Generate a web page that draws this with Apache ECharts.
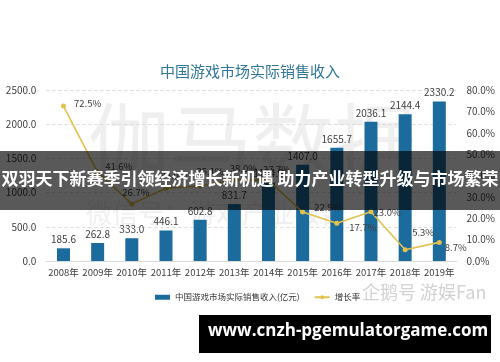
<!DOCTYPE html>
<html>
<head>
<meta charset="utf-8">
<script src="https://cdn.jsdelivr.net/npm/echarts@6/dist/echarts.min.js"></script>
<style>
html,body{margin:0;padding:0;background:#fff;}
#c{width:500px;height:362px;}
</style>
</head>
<body>
<div id="c"></div>
<script>
// ---- data ----
const categories = ['2008年','2009年','2010年','2011年','2012年','2013年','2014年','2015年','2016年','2017年','2018年','2019年'];
const revenue = [185.6, 262.8, 333.0, 446.1, 602.8, 831.7, 1144.8, 1407.0, 1655.7, 2036.1, 2144.4, 2330.2];
const growthRate = [72.5, 41.6, 26.7, 34.0, 35.1, 38.0, 37.7, 22.9, 17.7, 23.0, 5.3, 8.7];
const revenueName = '中国游戏市场实际销售收入(亿元)';
const rateName = '增长率';
const titleText = '中国游戏市场实际销售收入';
const bannerText = '双羽天下新赛季引领经济增长新机遇 助力产业转型升级与市场繁荣';
const footerText = 'www.cnzh-pgemulatorgame.com';
const watermarkBig = '伽马数据';
const watermarkSmall = '微信号：游戏产业报告';
const watermarkBrand = '企鹅号 游娱Fan';

// ---- label placement styles (not data) ----
const rateLabelStyle = [
  {position:'right', distance:8, offset:[0,-3]},
  {position:'right', distance:5, offset:[0,-6]},
  {position:'top', distance:4, offset:[4,0]},
  {position:'top', distance:4, offset:[8,-2]},
  {position:'top', distance:4, offset:[10,-3]},
  {position:'top', distance:4, offset:[9,0]},
  {position:'top', distance:4, offset:[8,0]},
  {position:'right', distance:9, offset:[0,-5]},
  {position:'right', distance:10, offset:[0,4]},
  {position:'right', distance:0, offset:[0,1]},
  {position:'top', distance:4, offset:[18,-6]},
  {position:'right', distance:3, offset:[0,5]}
];

const FONT = '"Noto Sans CJK SC", "Noto Sans", sans-serif';
const BAR = '#1b6c9c';
const LINE = '#e3c14e';

const chart = echarts.init(document.getElementById('c'), null, {renderer:'canvas'});
chart.setOption({
  backgroundColor:'#ffffff',
  animation:false,
  textStyle:{fontFamily:FONT},
  title:{
    text:titleText, left:'center', top:59,
    textStyle:{fontSize:15, fontWeight:'normal', color:'#2f7697', fontFamily:FONT}
  },
  grid:{left:46.4, right:43.6, top:90, bottom:101, containLabel:false},
  legend:{
    left:150, top:288, itemGap:14, itemWidth:15, itemHeight:5,
    textStyle:{fontSize:8.5, color:'#333', fontFamily:FONT},
    data:[{name:revenueName, icon:'rect'}, {name:rateName}]
  },
  xAxis:{
    type:'category', data:categories,
    axisLine:{show:true, lineStyle:{color:'#d9d9d9'}},
    axisTick:{show:false},
    axisLabel:{interval:0, fontSize:9.5, color:'#404040', margin:7, fontFamily:FONT}
  },
  yAxis:[
    {type:'value', min:0, max:2500, interval:500,
     axisLine:{show:false}, axisTick:{show:false},
     axisLabel:{fontSize:10, color:'#404040', margin:10, formatter:v=>v.toFixed(1), fontFamily:FONT},
     splitLine:{show:true, lineStyle:{color:'#d9d9d9', type:[3,3]}}},
    {type:'value', min:0, max:80, interval:10,
     axisLine:{show:false}, axisTick:{show:false},
     axisLabel:{fontSize:10, color:'#404040', margin:10, formatter:v=>v.toFixed(1)+'%', fontFamily:FONT},
     splitLine:{show:false}}
  ],
  graphic:[
    {type:'text', z:-10, left:88, top:100, silent:true,
     style:{text:watermarkBig, fontSize:82, fill:'#efefef', fontFamily:FONT}},
    {type:'text', z:-10, left:86, top:200, silent:true,
     style:{text:watermarkSmall, fontSize:26, fill:'#efefef', fontFamily:FONT}},
    {type:'text', z:-10, left:362, top:283, silent:true,
     style:{text:watermarkBrand, fontSize:18, fill:'#d2d2d2', fontFamily:FONT}},
    {type:'rect', z:100, left:0, top:151, shape:{width:500, height:59},
     style:{fill:'rgba(0,0,0,0.65)'}},
    {type:'text', z:101, left:'center', top:170,
     style:{text:bannerText, fontSize:17, fontWeight:'bold', fill:'#ffffff', fontFamily:FONT}},
    {type:'rect', z:100, left:199, top:315, shape:{width:292, height:38},
     style:{fill:'#000000'}},
    {type:'text', z:101, left:208, top:323,
     style:{text:footerText, fontSize:17, fontWeight:'bold', fill:'#ffffff', fontFamily:'"Open Sans", "DejaVu Sans", sans-serif'}}
  ],
  series:[
    {name:revenueName, type:'bar', yAxisIndex:0, data:revenue, barWidth:13,
     itemStyle:{color:BAR},
     label:{show:true, position:'top', distance:4, fontSize:10, color:'#404040',
            formatter:p=>p.value.toFixed(1), fontFamily:FONT}},
    {name:rateName, type:'line', yAxisIndex:1,
     data:growthRate.map((v,i)=>({value:v, label:rateLabelStyle[i]})),
     symbol:'circle', symbolSize:5,
     lineStyle:{color:LINE, width:1.6}, itemStyle:{color:LINE},
     label:{show:true, fontSize:9.5, color:'#404040', formatter:p=>p.value.toFixed(1)+'%', fontFamily:FONT}}
  ]
});
</script>
</body>
</html>
